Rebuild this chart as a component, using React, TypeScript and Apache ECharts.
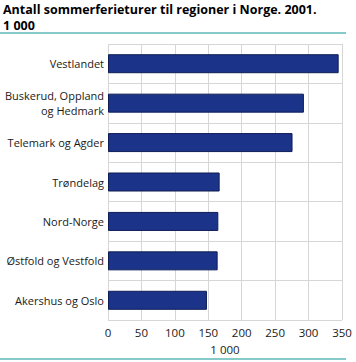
import React, { useEffect, useRef } from "react";
import * as echarts from "echarts";

const categories = [
  "Vestlandet",
  "Buskerud, Oppland\nog Hedmark",
  "Telemark og Agder",
  "Trøndelag",
  "Nord-Norge",
  "Østfold og Vestfold",
  "Akershus og Oslo",
];
const values = [345, 293, 276, 167, 165, 164, 148];
const titleLines = ["Antall sommerferieturer til regioner i Norge. 2001.", "1 000"];
const axisName = "1 000";

export default function App() {
  const ref = useRef<HTMLDivElement>(null);
  useEffect(() => {
    const chart = echarts.init(ref.current!, null, { renderer: "svg" });
    const font = "'Open Sans', 'DejaVu Sans', sans-serif";
    const titleStyle = {
      fontFamily: font,
      fontSize: 12.5,
      fontWeight: "bold",
      color: "#000",
      lineHeight: 14,
    };
    chart.setOption({
      animation: false,
      backgroundColor: "#ffffff",
      title: titleLines.map((t, i) => ({
        text: t,
        left: 3,
        top: 2 + i * 16,
        padding: 0,
        textStyle: titleStyle,
      })),
      graphic: [
        { type: "line", shape: { x1: 0, y1: 33, x2: 346, y2: 33 }, style: { stroke: "#86c9c9", lineWidth: 2 } },
        { type: "line", shape: { x1: 0, y1: 359, x2: 346, y2: 359 }, style: { stroke: "#86c9c9", lineWidth: 2 } },
      ],
      grid: { left: 108, top: 44, right: 14, bottom: 42, containLabel: false, outerBoundsMode: "none" },
      xAxis: {
        type: "value",
        min: 0,
        max: 350,
        interval: 50,
        name: axisName,
        nameLocation: "middle",
        nameGap: 23,
        nameTextStyle: { fontFamily: font, fontSize: 11.5, color: "#1a1a1a" },
        axisLine: { show: false },
        axisTick: { show: false },
        axisLabel: { fontFamily: font, fontSize: 11.5, color: "#1a1a1a", margin: 6 },
        splitLine: { show: true, lineStyle: { color: "#d6d6d6", width: 1 } },
      },
      yAxis: {
        type: "category",
        data: categories,
        inverse: true,
        axisLine: { show: false },
        axisTick: { show: false },
        axisLabel: { fontFamily: font, fontSize: 11, color: "#1a1a1a", margin: 4, lineHeight: 15, align: "right" },
        splitLine: { show: true, lineStyle: { color: "#d6d6d6", width: 1 } },
      },
      series: [
        {
          type: "bar",
          data: values,
          barWidth: 19,
          itemStyle: { color: "#1b3389", borderColor: "#0e1d55", borderWidth: 1 },
        },
      ],
    });
    return () => chart.dispose();
  }, []);
  return (
    <div
      ref={ref}
      style={{ position: "absolute", left: 0, top: 0, width: 356, height: 362 }}
    />
  );
}
